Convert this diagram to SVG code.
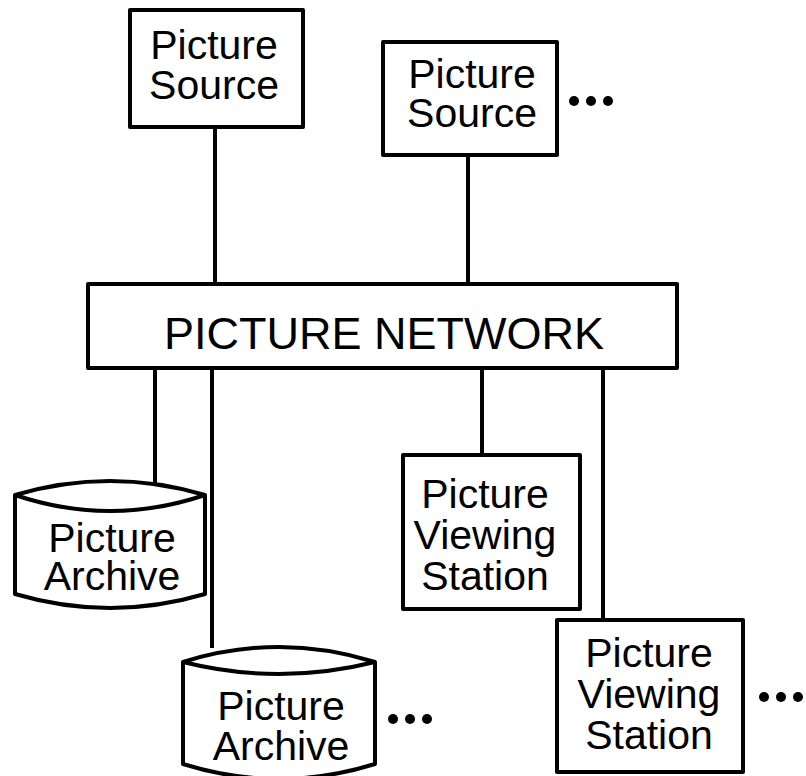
<svg xmlns="http://www.w3.org/2000/svg" width="806" height="776" viewBox="0 0 806 776">
<style>
.box{fill:#fff;stroke:#000;stroke-width:4;stroke-linejoin:round}
.con{stroke:#000;stroke-width:4;fill:none}
.t{font-family:"Liberation Sans",Arial,sans-serif;font-size:41px;fill:#000;text-anchor:middle}
.big{font-size:45px}
.dot{fill:#000}
</style>
<rect width="806" height="776" fill="#fff"/>
<g id="connectors">
<line class="con" x1="215" y1="127" x2="215" y2="284"/>
<line class="con" x1="468" y1="155" x2="468" y2="284"/>
<line class="con" x1="155" y1="368" x2="155" y2="484"/>
<line class="con" x1="212" y1="368" x2="212" y2="648"/>
<line class="con" x1="482" y1="368" x2="482" y2="455"/>
<line class="con" x1="603" y1="368" x2="603" y2="620"/>
</g>
<g id="source1">
<rect class="box" x="130" y="10" width="173" height="117"/>
<text class="t" x="214" y="59">Picture</text>
<text class="t" x="214" y="99">Source</text>
</g>
<g id="source2">
<rect class="box" x="383" y="42" width="174" height="113"/>
<text class="t" x="472" y="88">Picture</text>
<text class="t" x="472" y="127">Source</text>
<circle class="dot" cx="574" cy="101" r="5"/>
<circle class="dot" cx="591" cy="101" r="5"/>
<circle class="dot" cx="608" cy="101" r="5"/>
</g>
<g id="network">
<rect class="box" x="88" y="284" width="589" height="84"/>
<text class="t big" x="384" y="349">PICTURE NETWORK</text>
</g>
<g id="archive1">
<path class="box" d="M15,495 L15,594 Q110,622 205,594 L205,495 Q110,467 15,495 Z"/>
<path class="con" d="M15,495 Q110,527 205,495"/>
<text class="t" x="112" y="552">Picture</text>
<text class="t" x="112" y="590">Archive</text>
</g>
<g id="archive2">
<path class="box" d="M183,662 L183,764 Q279,794 375,764 L375,662 Q279,632 183,662 Z"/>
<path class="con" d="M183,662 Q279,686 375,662"/>
<text class="t" x="281" y="720">Picture</text>
<text class="t" x="281" y="760">Archive</text>
<circle class="dot" cx="393" cy="719" r="5"/>
<circle class="dot" cx="410" cy="719" r="5"/>
<circle class="dot" cx="427" cy="719" r="5"/>
</g>
<g id="viewing1">
<rect class="box" x="403" y="455" width="177" height="154"/>
<text class="t" x="485" y="508">Picture</text>
<text class="t" x="485" y="549">Viewing</text>
<text class="t" x="485" y="590">Station</text>
</g>
<g id="viewing2">
<rect class="box" x="557" y="620" width="186" height="152"/>
<text class="t" x="649" y="667">Picture</text>
<text class="t" x="649" y="708">Viewing</text>
<text class="t" x="649" y="749">Station</text>
<circle class="dot" cx="764" cy="697" r="5"/>
<circle class="dot" cx="781" cy="697" r="5"/>
<circle class="dot" cx="798" cy="697" r="5"/>
</g>
</svg>
